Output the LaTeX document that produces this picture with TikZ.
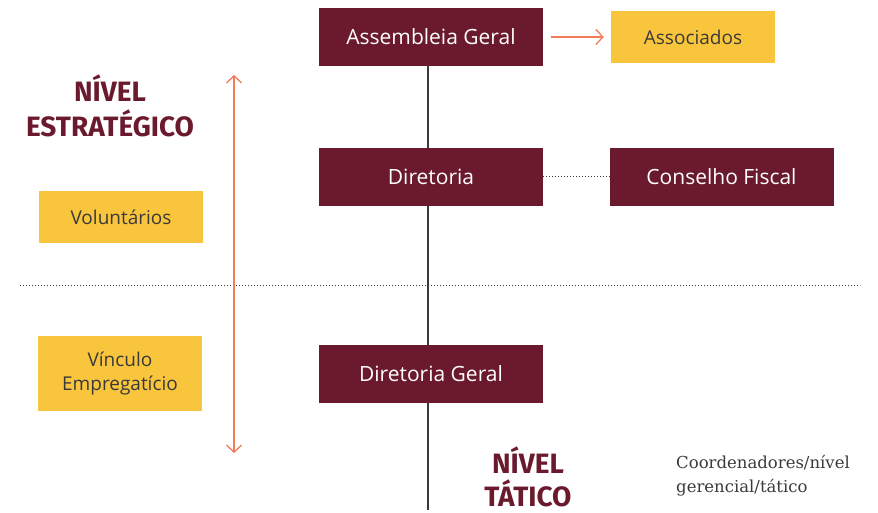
\documentclass[tikz,border=0pt]{standalone}
\usepackage{fontspec}
\setmainfont{Open Sans}
\newfontfamily\nivelfont{Fira Sans}
\newfontfamily\notafont{DejaVu Serif}
\usetikzlibrary{positioning,arrows.meta}
\definecolor{vinho}{HTML}{6B1A2E}
\definecolor{amarelo}{HTML}{F9C53C}
\definecolor{laranja}{HTML}{F47B5A}
\definecolor{cinza}{HTML}{3A3A3A}

\begin{document}
\begin{tikzpicture}
[x=1pt,y=-1pt,
 >={Straight Barb[length=7pt,width=15pt]},
 orgao/.style={shape=rectangle,fill=vinho,text=white,minimum width=224pt,minimum height=58pt,inner sep=0pt,font=\fontsize{21}{24}\selectfont},
 grupo/.style={shape=rectangle,fill=amarelo,text=cinza,minimum width=164pt,inner sep=0pt,align=center,font=\fontsize{19}{24}\selectfont},
 nivel/.style={text=vinho,align=center,inner sep=0pt,font=\nivelfont\bfseries\fontsize{28}{35}\selectfont},
 seta/.style={draw=laranja,line width=1.3pt,->}]
\useasboundingbox (0,0) rectangle (878,513);
\draw[dotted,line width=1pt,cinza] (20,285) -- (860,285);
\coordinate (topo) at (428,53);
\coordinate (base) at (428,510);
\draw[cinza,line width=1.3pt] (topo) -- (base);
\node[orgao] (ag) at (431,37) {Assembleia Geral};
\node[grupo,minimum height=52pt] (assoc) at (693,37) {Associados};
\node[orgao] (dir) at (431,177) {Diretoria};
\node[orgao] (cf) at (721.5,177) {Conselho Fiscal};
\node[orgao] (dg) at (431,374) {Diretoria Geral};
\node[grupo,minimum height=52pt] (vol) at (121,217) {Voluntários};
\node[grupo,minimum height=75pt] (vinc) at (120,373.5) {Vínculo\\Empregatício};
\node[nivel] (ne) at (110,106) {NÍVEL\\ESTRATÉGICO};
\node[nivel,font=\nivelfont\bfseries\fontsize{28}{33}\selectfont] (nt) at (528,477) {NÍVEL\\TÁTICO};
\node[text=cinza,align=left,anchor=north west,inner sep=0pt,font=\notafont\fontsize{16.5}{24}\selectfont] (coord) at (676,455) {Coordenadores/nível\\gerencial/tático};
\coordinate (ne1) at (234,75);
\coordinate (ne2) at (234,453);
\draw[seta,<->] (ne1) -- (ne2);
\draw[seta] ([xshift=8pt]ag.east) -- ([xshift=-7pt]assoc.west);
\draw[dotted,line width=1pt,cinza] (dir) -- (cf);
\end{tikzpicture}
\end{document}
